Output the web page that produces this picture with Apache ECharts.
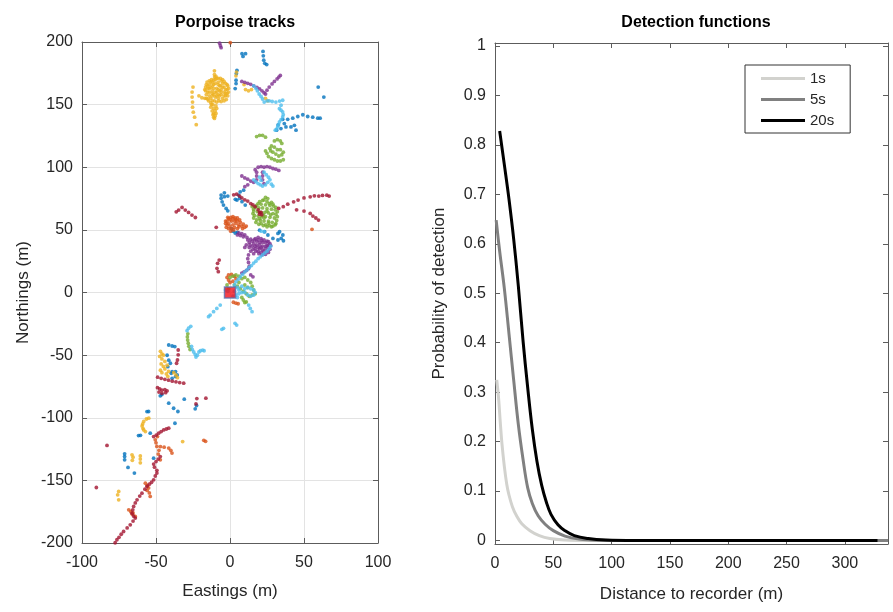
<!DOCTYPE html>
<html>
<head>
<meta charset="utf-8">
<title>Porpoise tracks / Detection functions</title>
<script src="https://cdn.jsdelivr.net/npm/echarts@6/dist/echarts.min.js"></script>
<style>
html, body { margin: 0; padding: 0; background: #fff; }
#chart { width: 893px; height: 612px; }
</style>
</head>
<body>
<div id="chart"></div>
<script>
// ---- left panel: porpoise tracks, [eastings, northings] in m ----
const blueTrack = [
    [8.1, 190.7], [10.5, 190.7], [8.8, 188.5], [22.3, 192.5], [22.5, 189], [22.8, 185.5], [23.5, 183], [24.8, 182],
    [4.7, 177.4], [4.3, 174.8], [4.1, 169.5], [4.1, 166.8], [3.5, 162.8], [59.6, 164], [63.4, 156],
    [35.6, 138.3], [39, 138.3], [42.4, 139.2], [45.8, 140.5], [49.2, 141.9], [52.5, 140.5], [55.9, 140], [59.3, 139.2], [60.9, 139.2],
    [31.5, 129.6], [34.4, 130.9], [37.8, 132.2], [36.7, 134.9], [41.2, 132.2], [43.5, 133.5], [44.6, 129.6], [32.5, 133.8],
    [-3.8, 79.6], [-6, 77.8], [-6, 75.2], [-5.3, 72.4], [-4.4, 69.8], [-2.6, 67.1], [-1.5, 65.2], [-3.8, 76.5], [-1.5, 77],
    [9.2, 81.7], [6.9, 80.4], [5.8, 77.8], [6.5, 75.2], [8.1, 72.5], [10.3, 69.8], [4.7, 73.8], [3.6, 74.4],
    [1, 51], [2, 49], [3.5, 47.5], [5, 48],
    [20, 49.8], [23.4, 48.5], [25.6, 45.9], [29, 43.2], [32.4, 41.9], [34.6, 43.2], [35.7, 45.9], [33.5, 48.5], [32.4, 47.2], [36.1, 41.3],
    [-41.4, -41.9], [-39.1, -42.7], [-37.3, -43.2], [-42.5, -50.1], [-41.4, -54], [-40.3, -56.5], [-42, -59.2],
    [-39.1, -63.1], [-36.8, -63.1], [-35.7, -65.8], [-36.8, -67.1], [-39.1, -68.5], [-39.7, -64.5],
    [-47.1, -82.5], [-46, -81.5], [-41.4, -88.4], [-38.1, -92.4], [-35.2, -95], [-30.9, -85.2], [-23.5, -92.9], [-22.6, -90.2],
    [-56.1, -95.1], [-55, -95], [-37.2, -104.4], [-61.8, -114.2], [-60.5, -114], [-53.9, -112.3],
    [-71.2, -128.8], [-71.2, -131], [-71.2, -133.6], [-68.9, -139.7], [-64.6, -144.2], [-51.6, -132.3]
];
const orangeTrack = [
    [0.2, 199.5],
    [-2, 57], [-1, 59], [0.5, 60], [2, 59], [3, 57], [1, 57], [-1, 55], [0, 53], [2, 54], [4, 55], [5, 57],
    [6, 54], [8, 53], [10, 52], [11, 53], [7, 56], [-2, 54], [-3, 55], [1, 51], [3, 52], [5, 51], [4, 58],
    [-1.5, 60], [0, 58], [2, 60.5], [3.5, 59.5], [-3, 57], [-2.5, 52], [-1, 51], [0.5, 49], [2.5, 50], [6, 52.5],
    [8.5, 51], [9, 54.5], [6.5, 58], [5, 59.5],
    [55.4, 50.4],
    [-2, 12], [-1, 14], [1, 14.5], [3, 13], [4, 11], [2, 9], [0, 8], [-1, 10], [2.3, -7.8], [4, -8.5], [5.5, -9],
    [-49, -115], [-50.5, -117.6], [-50, -120], [-49.4, -122.9], [-47, -123], [-44.5, -123.5], [-41.4, -124.2],
    [-40, -126], [-39.2, -128.2], [-48, -126], [-48.5, -129], [-47.1, -133.6],
    [-17.7, -118], [-16.5, -118.8],
    [-57.2, -152.2], [-56, -154], [-55, -156], [-56, -158], [-54.5, -160], [-53.9, -162.8],
    [-68.4, -173.5], [-67, -175], [-66, -177], [-64, -178.8], [-65.5, -176]
];
const yellowTrack = [
    [-16, 166], [-15, 163], [-14, 160], [-16, 158], [-13, 168], [-12, 165], [-12, 161], [-11, 158], [-13, 155],
    [-10, 170], [-10, 167], [-9, 163], [-9, 160], [-10, 156], [-8, 168], [-7, 165], [-7, 161], [-6, 158], [-8, 155],
    [-5, 167], [-4, 164], [-4, 160], [-3, 157], [-5, 155], [-2, 162], [-2, 159], [-14, 163], [-11, 163], [-6, 162],
    [-3, 162], [-8, 158], [-12, 157], [-15, 160], [-6, 169], [-9, 171], [-1.5, 165], [-14, 166], [-17, 162],
    [-15.5, 168], [-14, 169], [-12.5, 170], [-11, 169.5], [-9.5, 172.5], [-8, 171], [-6.5, 171], [-5, 170], [-4, 168.5],
    [-3, 167], [-2, 166], [-1, 163], [-1, 160], [-1.5, 157], [-2.5, 154], [-4, 153], [-6, 152.5], [-7.5, 153], [-9, 152],
    [-10.5, 153], [-13, 151.5], [-14.5, 153], [-16, 155], [-16.5, 161], [-16.5, 164], [-15, 165], [-13, 163.5], [-11, 166],
    [-8, 166], [-5, 164], [-6.5, 165], [-10, 160], [-12, 159], [-14, 157], [-8, 162], [-6, 160], [-4, 157], [-3, 159],
    [-7, 157], [-9, 157], [-12, 168],
    [-10.5, 177], [-10.5, 174], [-10.4, 172],
    [-12, 153], [-11.5, 150], [-11, 147], [-10, 145], [-9.5, 143], [-10, 141], [-11, 140],
    [-12.5, 150], [-13, 148], [-12, 145], [-11, 143], [-10.5, 139], [-11.5, 142], [-9, 147], [-9.5, 149],
    [-25, 164], [-25.6, 160], [-25.6, 156], [-25.3, 152], [-25.3, 148], [-24.8, 144], [-23.9, 140], [-22.8, 134],
    [-21, 157], [-19, 155.5], [-17, 155], [-15, 154.5],
    [4.4, 176], [4, 173], [9.5, 166], [10.5, 162], [12.5, 161], [14.5, 162], [24, 155], [25.5, 153],
    [-47, -47], [-46, -49], [-47.5, -51], [-46, -53], [-45, -50], [-44, -55], [-46.5, -57], [-45, -59], [-44, -61],
    [-42.5, -58], [-47, -62], [-46, -64], [-43, -65], [-41.5, -63], [-42, -67], [-38, -64], [-36.5, -66], [-35.5, -68],
    [-54.9, -100.3], [-56.5, -101], [-58.3, -103], [-59, -105], [-59.4, -106.5], [-58.8, -108.5], [-58.3, -109.7], [-57.2, -111],
    [-32, -119],
    [-66.2, -129.6], [-65.5, -131.5], [-66, -134], [-60.6, -130.5], [-60.6, -133], [-60.6, -136],
    [-75.2, -158.8], [-75.9, -161.5], [-75.2, -165.5]
];
const purpleTrack = [
    [-7, 199], [-6.5, 197], [-6, 195.5],
    [8, 168.5], [10, 167.8], [12, 167], [14, 166.2], [16, 165], [18.2, 163.8], [20, 162.5], [21.6, 161], [23, 159.5],
    [24, 158.5], [25, 161.5], [26.5, 164], [28.4, 166.5], [30, 168.5], [31.8, 170.5], [33, 172], [34, 173.3],
    [8, 93], [10, 91.5], [12, 90.5], [14, 89], [16, 88], [12, 86], [10, 84.5], [17, 98], [18, 96], [18, 93], [18, 90],
    [19, 100], [21, 100.5], [23, 100], [25, 100.5], [27, 100], [29, 99], [31, 98.5], [33, 97.5], [22, 96], [22, 93],
    [22, 90], [23, 87],
    [5, 46], [6, 47.5], [8, 47], [10, 46], [11.5, 44], [12, 42], [13, 40], [15, 41], [17, 43], [19, 44], [21, 43],
    [23, 42], [25, 41], [27, 39], [26, 36], [25, 33], [23, 31], [21, 32], [19, 33], [17, 35], [15, 37], [13, 36],
    [14, 33], [16, 31], [18, 38], [20, 38], [22, 37], [24, 37], [20, 35], [22, 34], [24, 35], [26, 38], [18, 41],
    [22, 40], [16, 39], [11, 38], [10, 36],
    [14, 42.5], [16.5, 42], [19, 42], [21.5, 41.5], [24, 40], [26, 40.5], [27.5, 37.5], [27, 34.5], [26, 32], [24, 30.5],
    [21.5, 30], [19.5, 31], [17.5, 33], [15.5, 34.5], [13.5, 38], [17, 37], [19, 36], [21, 36], [23, 33], [25, 37.5],
    [20, 40], [7, 45.5], [9, 44.5],
    [12.5, 30], [12, 27], [12.5, 24], [13, 21], [12.5, 19], [11, 17.5], [9.5, 16.5], [8, 15.5], [14, 14], [15.5, 12.5]
];
const greenTrack = [
    [18, 124.5], [20, 125.5], [22, 125.5], [24, 124],
    [30, 121], [32, 122], [34, 121], [35, 119], [28, 117], [27, 115], [27.5, 113], [29, 112], [31, 110.5], [33, 109],
    [35, 110], [36, 112], [34, 114], [32, 114], [30, 116], [24, 113], [25, 111], [26, 108.5], [28, 107], [30, 106],
    [32, 105], [34, 105], [36, 106],
    [24, 76], [25.5, 75], [22, 73.5], [25, 72.5], [28, 72], [19, 71], [21, 70.5], [24, 70], [27, 69.5], [29.5, 69],
    [17, 68], [19.5, 67.5], [22, 67.5], [25, 67], [28, 66.5], [30.5, 66], [16, 65], [18.5, 64.5], [21, 64], [23.5, 64],
    [26, 63.5], [29, 63], [31, 62.5], [16.5, 61.5], [19, 61], [21.5, 60.5], [24, 60.5], [27, 60], [30, 59.5], [18, 58],
    [20.5, 57.5], [23, 57], [26, 57], [28.5, 56], [21, 55], [24, 54], [26.5, 53.5], [29, 53], [31, 55], [15, 68.5],
    [23, 74], [20, 72.5], [26.5, 71], [29, 70.5], [18, 69.5], [31, 68], [16, 66.5], [32, 64.5], [15.5, 63], [32, 60.5],
    [16, 59.5], [31.5, 57.5], [17.5, 56], [19.5, 54.5], [22.5, 53.5], [25, 52.5], [28, 52.5], [30.5, 54], [22.5, 62],
    [25, 65], [27.5, 62], [20, 59], [23, 59.5], [26, 55.5],
    [0, 12], [2, 13], [4, 14], [6, 13], [8, 11], [10, 12], [12, 10], [14, 8], [15, 5], [16, 2], [17, -1], [15, -2],
    [13, -3], [11, -1], [9, 1], [7, 3], [5, 5], [3, 6], [10, 6], [12, 4], [6, 8], [8, -4], [9, -6], [10, -8], [11, -7.5],
    [-2, 6], [-1, 3],
    [-28.5, -33], [-28.8, -35.5], [-28.6, -38], [-28.2, -40.5], [-27.8, -43], [-27, -45.5]
];
const cyanTrack = [
    [16, 165], [17.5, 163], [18.5, 161], [19.7, 158.5], [21, 156.5], [22, 154.5], [23.1, 152], [25, 153], [26.5, 153],
    [28.5, 152.5], [31, 152], [33.5, 152.8], [35.6, 153.5], [34.5, 149.5], [33.4, 146.8], [34.5, 145.5], [35.6, 144.2],
    [36, 142], [35.6, 140.2], [34.5, 138], [33.4, 136.2], [32.8, 134], [32.2, 132.2], [31.5, 130.5], [30.6, 129.6],
    [16, 90], [17.5, 88.5], [19, 87], [20.5, 86], [22, 85], [24, 86], [25.5, 88], [27, 90], [26, 92], [24.5, 94],
    [23, 96], [20, 92], [21, 89.5], [28, 86.5], [29, 85],
    [21, 49], [23, 48.5],
    [27.5, 37], [26.5, 35], [25, 33], [23.5, 31.5], [22, 30], [20.5, 28.5], [19, 27], [17.5, 25], [16, 23.5],
    [14.5, 21.5], [13, 20], [11.5, 18], [10, 16.5], [8.5, 14.5], [7, 12.5], [5.5, 10.5], [4, 8.5],
    [3, 6], [5, 4], [6, 2], [8, 5], [10, 3], [12, 4], [14, 3], [16, 2], [17, 0], [16, -2], [14, -3], [12, -2],
    [10, 0], [8, 0], [6, -1], [4, -2], [2, -3], [3, 1], [5, -4], [-3, 2], [-1.5, 1],
    [12.6, -10], [13.7, -12.7], [14.9, -15.3], [4.5, -26], [3.4, -24.6], [-4.4, -28.6], [-5.5, -29.4],
    [-6.6, -10], [-8.9, -12.7], [-11.1, -15.3], [-13.4, -18], [-14.5, -19.3],
    [-26.5, -27], [-28, -28.5], [-29, -30.5],
    [-26, -43], [-25.5, -45.5], [-24.5, -47.5], [-23.5, -49.5], [-23, -51.5], [-22, -50], [-21, -47.5], [-20, -46.5],
    [-18.5, -46], [-17.5, -46.5]
];
const redTrack = [
    [2.5, 78], [4.5, 78.5], [6.5, 77], [8, 75.5], [10, 74], [12, 73], [14, 71], [15.5, 70], [17, 68.5], [19, 66],
    [20, 64], [21.5, 62], [21, 64], [20, 62.5],
    [32.9, 67.1], [36, 68.5], [39, 70.5], [43, 72.4], [46, 73.8], [50, 75.5], [54.2, 76.4], [57, 77.2], [60, 77],
    [62.5, 77.5], [65.4, 77.7], [67, 77], [45, 66], [50, 65], [54.2, 63.1], [56, 61], [58, 59.5], [59.8, 57.8],
    [-36.3, 64.4], [-34.7, 65.8], [-32.4, 67.9], [-30.2, 65.8], [-28, 63.9], [-25.7, 61.8], [-23.4, 59.9],
    [-9.3, 52],
    [-7.3, 25.9], [-8.4, 23.3], [-8.8, 19.3], [-7.9, 16.6],
    [-35, -45.9], [-35, -49.8], [-35.5, -53.9], [-36.1, -56.5],
    [-48.9, -67.6], [-46.5, -68.5], [-44, -69.3], [-41.5, -70], [-39, -70.8], [-36.5, -71.3], [-34, -71.9], [-31.3, -72.4],
    [-49, -76], [-47.5, -77], [-46, -78], [-44, -77.5], [-42.5, -78.5], [-48, -79.5], [-46, -80.5], [-43.5, -80],
    [-22.4, -84.7], [-16.3, -84.4], [-23, -89],
    [-51.6, -115], [-49.8, -113.8], [-48.2, -112.3], [-46.5, -111], [-44.8, -109.7], [-43, -109], [-41.4, -108.3],
    [-83.1, -122.1],
    [-47.1, -131], [-48.5, -133], [-50, -135], [-51.6, -137], [-51, -139.5], [-49.4, -142], [-49.4, -144.2],
    [-50.5, -146.5], [-51.6, -149.6], [-53, -151.5], [-54.5, -153], [-56.1, -154.9], [-57.5, -157], [-59.5, -160.2],
    [-61, -162.5], [-62.8, -165.5], [-64, -168], [-65.1, -170.8], [-65.7, -173.5], [-66.2, -176.2], [-65.2, -178.5],
    [-64, -180.1], [-65.5, -182.5], [-67.4, -185.5], [-69.5, -188], [-71.9, -190.8], [-73.5, -193], [-75, -195.5],
    [-76.4, -197.4], [-77.6, -199.8],
    [-90.3, -155.7]
];
const recorder = [[0, 0]];

// ---- right panel: detection functions [distance m, probability] ----
const det1s = [
    [1.5, 0.325], [3, 0.29], [4.5, 0.24], [6, 0.195], [8, 0.15], [10, 0.115], [12, 0.092], [15, 0.068],
    [18.5, 0.05], [23, 0.034], [30, 0.02], [38, 0.01], [47, 0.004], [60, 0.001], [80, 0], [337, 0]
];
const det5s = [
    [1, 0.648], [4, 0.585], [8, 0.51], [12, 0.418], [16, 0.325], [20, 0.235], [24, 0.165], [28, 0.107],
    [32, 0.075], [37, 0.05], [43, 0.033], [50, 0.02], [60, 0.009], [72, 0.003], [90, 0.0005], [110, 0], [337, 0]
];
const det20s = [
    [4, 0.828], [8, 0.76], [12, 0.69], [16, 0.61], [20, 0.515], [24, 0.405], [28, 0.31], [32, 0.225], [36, 0.16],
    [40, 0.112], [44, 0.078], [48, 0.053], [54, 0.032], [60, 0.02], [68, 0.01], [80, 0.004], [95, 0.001], [120, 0], [328, 0]
];
const distTicks = [0, 50, 100, 150, 200, 250, 300];
const probTicks = [0, 0.1, 0.2, 0.3, 0.4, 0.5, 0.6, 0.7, 0.8, 0.9, 1];

const FONT = 'Liberation Sans, Arial, sans-serif';
const AXIS_COLOR = '#5c5c5c';
const TEXT_COLOR = '#262626';

const chart = echarts.init(document.getElementById('chart'));

function trackSeries(data, color) {
    return {
        type: 'scatter', xAxisIndex: 0, yAxisIndex: 0, data: data,
        symbolSize: 3.8, itemStyle: { color: color }, silent: true
    };
}

function detSeries(name, data, color) {
    return {
        name: name, type: 'line', xAxisIndex: 2, yAxisIndex: 2, data: data,
        showSymbol: false, smooth: 0.4, lineStyle: { width: 3, color: color }, itemStyle: { color: color }
    };
}

// 镜像轴（只画刻度，模仿 MATLAB 的 box on）
function mirrorAxis(gridIndex, position, min, max, ticks) {
    return {
        type: 'value', gridIndex: gridIndex, position: position, min: min, max: max,
        axisLine: { show: true, onZero: false, lineStyle: { color: AXIS_COLOR } },
        axisTick: { show: true, inside: true, length: 5, customValues: ticks, lineStyle: { color: AXIS_COLOR } },
        axisLabel: { show: false },
        splitLine: { show: false }
    };
}

const labelStyle = { fontSize: 16, color: TEXT_COLOR, fontFamily: FONT };
const nameStyle = { fontSize: 17, color: TEXT_COLOR, fontFamily: FONT };

const option = {
    animation: false,
    textStyle: { fontFamily: FONT },
    title: [
        { text: 'Porpoise tracks', left: 230, top: 10, textAlign: 'center',
          textStyle: { fontSize: 16, fontWeight: 'bold', color: '#000', fontFamily: FONT } },
        { text: 'Detection functions', left: 691, top: 10, textAlign: 'center',
          textStyle: { fontSize: 16, fontWeight: 'bold', color: '#000', fontFamily: FONT } }
    ],
    legend: {
        data: ['1s', '5s', '20s'],
        orient: 'vertical', left: 745, top: 65,
        icon: 'rect', itemWidth: 44, itemHeight: 3, itemGap: 6,
        padding: [6, 16, 5, 16],
        borderColor: '#333', borderWidth: 1, borderRadius: 0, backgroundColor: '#fff',
        textStyle: { fontSize: 15, color: TEXT_COLOR, fontFamily: FONT }
    },
    grid: [
        { left: 82, top: 42, width: 296, height: 501 },
        { left: 495, top: 43, width: 393, height: 501 }
    ],
    xAxis: [
        {
            type: 'value', gridIndex: 0, min: -100, max: 100, interval: 50,
            name: 'Eastings (m)', nameLocation: 'middle', nameGap: 40, nameTextStyle: nameStyle,
            axisLine: { show: true, onZero: false, lineStyle: { color: AXIS_COLOR } },
            axisTick: { show: true, inside: true, length: 5, lineStyle: { color: AXIS_COLOR } },
            axisLabel: Object.assign({ margin: 12 }, labelStyle),
            splitLine: { show: true, lineStyle: { color: '#e3e3e3' } }
        },
        mirrorAxis(0, 'top', -100, 100, [-100, -50, 0, 50, 100]),
        {
            type: 'value', gridIndex: 1, min: 0, max: 337,
            name: 'Distance to recorder (m)', nameLocation: 'middle', nameGap: 42, nameTextStyle: nameStyle,
            axisLine: { show: true, onZero: false, lineStyle: { color: AXIS_COLOR } },
            axisTick: { show: true, inside: true, length: 5, customValues: distTicks, lineStyle: { color: AXIS_COLOR } },
            axisLabel: Object.assign({ margin: 12, customValues: distTicks }, labelStyle),
            splitLine: { show: false }
        },
        mirrorAxis(1, 'top', 0, 337, distTicks)
    ],
    yAxis: [
        {
            type: 'value', gridIndex: 0, min: -200, max: 200, interval: 50,
            name: 'Northings (m)', nameLocation: 'middle', nameGap: 50, nameTextStyle: nameStyle,
            axisLine: { show: true, onZero: false, lineStyle: { color: AXIS_COLOR } },
            axisTick: { show: true, inside: true, length: 5, lineStyle: { color: AXIS_COLOR } },
            axisLabel: Object.assign({ margin: 9 }, labelStyle),
            splitLine: { show: true, lineStyle: { color: '#e3e3e3' } }
        },
        mirrorAxis(0, 'right', -200, 200, [-200, -150, -100, -50, 0, 50, 100, 150, 200]),
        {
            type: 'value', gridIndex: 1, min: -0.007, max: 1.006,
            name: 'Probability of detection', nameLocation: 'middle', nameGap: 47, nameTextStyle: nameStyle,
            axisLine: { show: true, onZero: false, lineStyle: { color: AXIS_COLOR } },
            axisTick: { show: true, inside: true, length: 5, customValues: probTicks, lineStyle: { color: AXIS_COLOR } },
            axisLabel: Object.assign({ margin: 9, customValues: probTicks }, labelStyle),
            splitLine: { show: false }
        },
        mirrorAxis(1, 'right', -0.007, 1.006, probTicks)
    ],
    series: [
        trackSeries(blueTrack, '#0072BD'),
        trackSeries(orangeTrack, '#D95319'),
        trackSeries(yellowTrack, '#EDB120'),
        trackSeries(purpleTrack, '#7E2F8E'),
        trackSeries(greenTrack, '#77AC30'),
        trackSeries(cyanTrack, '#4DBEEE'),
        trackSeries(redTrack, '#A2142F'),
        {
            type: 'scatter', xAxisIndex: 0, yAxisIndex: 0, data: recorder, symbol: 'rect', symbolSize: 11,
            itemStyle: { color: '#f2101a', borderColor: '#5a6fb0', borderWidth: 1.5 }, silent: true
        },
        detSeries('1s', det1s, '#d2d2ce'),
        detSeries('5s', det5s, '#808080'),
        detSeries('20s', det20s, '#000000')
    ]
};

chart.setOption(option);
</script>
</body>
</html>
